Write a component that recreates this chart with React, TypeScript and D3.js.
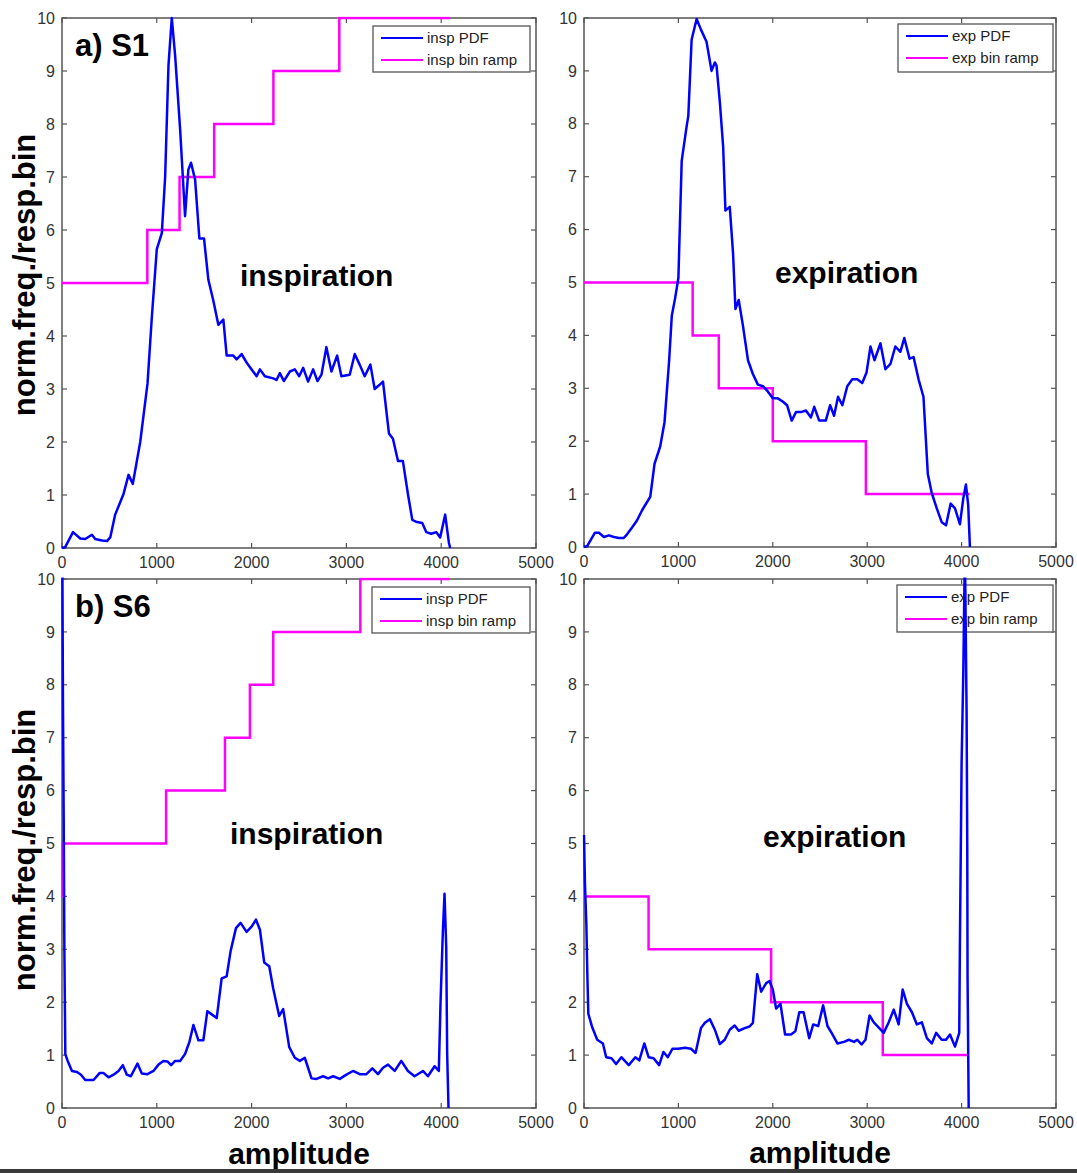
import React from 'react';
import * as d3 from 'd3';

const xTicks = [0, 1000, 2000, 3000, 4000, 5000];
const yTicks = [0, 1, 2, 3, 4, 5, 6, 7, 8, 9, 10];

// a) S1 inspiration PDF [amplitude, norm.freq]
const s1InspPdf: [number, number][] = [
  [0, 0], [35, 0.02], [116, 0.3], [193, 0.18], [245, 0.17], [316, 0.25], [350, 0.17], [421, 0.14], [474, 0.13],
  [509, 0.2], [561, 0.63], [649, 1.02], [702, 1.38], [747, 1.21], [825, 2.0], [902, 3.1], [947, 4.34],
  [1000, 5.64], [1053, 5.94], [1088, 7.0], [1123, 9.1], [1158, 10.0], [1193, 9.3], [1246, 7.9], [1298, 6.26],
  [1333, 7.14], [1361, 7.27], [1404, 6.95], [1449, 5.84], [1498, 5.84], [1544, 5.06], [1596, 4.67], [1649, 4.21],
  [1702, 4.31], [1737, 3.63], [1807, 3.63], [1842, 3.56], [1895, 3.66], [1947, 3.5], [2000, 3.37], [2053, 3.24],
  [2088, 3.37], [2140, 3.24], [2228, 3.2], [2263, 3.17], [2298, 3.3], [2340, 3.15], [2404, 3.33], [2456, 3.37],
  [2502, 3.24], [2544, 3.4], [2596, 3.14], [2649, 3.37], [2695, 3.15], [2737, 3.27], [2789, 3.79], [2842, 3.33],
  [2902, 3.63], [2947, 3.24], [3035, 3.27], [3088, 3.66], [3140, 3.46], [3193, 3.24], [3253, 3.46], [3298, 3.0],
  [3344, 3.07], [3386, 3.14], [3449, 2.16], [3491, 2.06], [3544, 1.64], [3596, 1.64], [3649, 1.02], [3695, 0.53],
  [3744, 0.49], [3800, 0.47], [3842, 0.3], [3895, 0.27], [3947, 0.3], [3989, 0.2], [4042, 0.63], [4081, 0.1],
  [4095, 0],
];
const s1InspRampEdges = [0, 900, 1240, 1605, 2230, 2925, 4095];
const s1InspRampLevels = [5, 6, 7, 8, 9, 10];

// a) S1 expiration PDF
const s1ExpPdf: [number, number][] = [
  [0, 0], [35, 0.02], [116, 0.27], [158, 0.27], [211, 0.19], [263, 0.22], [316, 0.19], [368, 0.17], [421, 0.17],
  [456, 0.24], [509, 0.37], [561, 0.5], [614, 0.69], [702, 0.95], [747, 1.57], [807, 1.9], [853, 2.36],
  [902, 3.53], [930, 4.37], [965, 4.7], [1000, 5.09], [1035, 7.3], [1088, 7.96], [1105, 8.15], [1140, 9.59],
  [1193, 9.98], [1239, 9.78], [1298, 9.55], [1351, 9.0], [1386, 9.16], [1404, 9.1], [1439, 8.41], [1474, 7.57],
  [1498, 6.36], [1544, 6.43], [1579, 5.55], [1604, 4.5], [1639, 4.67], [1684, 4.18], [1737, 3.53], [1789, 3.27],
  [1842, 3.07], [1895, 3.04], [1947, 2.94], [2000, 2.81], [2053, 2.81], [2105, 2.75], [2151, 2.68], [2200, 2.39],
  [2246, 2.55], [2298, 2.55], [2351, 2.58], [2404, 2.45], [2439, 2.65], [2491, 2.39], [2561, 2.39], [2607, 2.68],
  [2649, 2.48], [2691, 2.84], [2737, 2.68], [2789, 3.04], [2842, 3.17], [2895, 3.17], [2947, 3.1], [2993, 3.3],
  [3035, 3.79], [3077, 3.53], [3140, 3.85], [3193, 3.36], [3246, 3.46], [3298, 3.79], [3351, 3.69], [3393, 3.95],
  [3449, 3.56], [3491, 3.59], [3544, 3.17], [3596, 2.84], [3642, 1.38], [3684, 1.02], [3737, 0.73], [3789, 0.47],
  [3835, 0.41], [3884, 0.82], [3930, 0.73], [3982, 0.43], [4018, 0.92], [4046, 1.18], [4070, 0.79], [4088, 0],
];
const s1ExpRampEdges = [0, 1151, 1428, 2000, 2986, 4085];
const s1ExpRampLevels = [5, 4, 3, 2, 1];

// b) S6 inspiration PDF
const s6InspPdf: [number, number][] = [
  [0, 12], [10, 7.7], [18, 5.45], [25, 3.0], [35, 1.02], [60, 0.89], [105, 0.7], [158, 0.68], [200, 0.63],
  [245, 0.53], [333, 0.53], [396, 0.66], [439, 0.66], [491, 0.58], [544, 0.63], [596, 0.7], [642, 0.81],
  [684, 0.63], [726, 0.6], [796, 0.84], [842, 0.65], [902, 0.64], [965, 0.7], [1018, 0.82], [1070, 0.89],
  [1112, 0.88], [1151, 0.81], [1193, 0.89], [1246, 0.89], [1298, 1.02], [1344, 1.25], [1386, 1.57], [1439, 1.28],
  [1491, 1.28], [1533, 1.83], [1579, 1.77], [1632, 1.7], [1684, 2.45], [1737, 2.49], [1779, 2.97], [1835, 3.4],
  [1884, 3.5], [1947, 3.33], [2000, 3.43], [2046, 3.56], [2088, 3.37], [2133, 2.75], [2186, 2.68], [2228, 2.26],
  [2291, 1.74], [2333, 1.87], [2397, 1.15], [2456, 0.95], [2509, 0.89], [2561, 0.95], [2632, 0.56], [2684, 0.55],
  [2754, 0.6], [2807, 0.56], [2860, 0.6], [2930, 0.55], [3000, 0.63], [3070, 0.7], [3140, 0.64], [3211, 0.64],
  [3274, 0.75], [3333, 0.64], [3386, 0.76], [3439, 0.82], [3509, 0.7], [3579, 0.89], [3649, 0.7], [3719, 0.6],
  [3807, 0.7], [3860, 0.6], [3930, 0.79], [3975, 0.7], [3993, 2.0], [4018, 3.36], [4035, 4.05], [4053, 3.04],
  [4063, 1.02], [4077, 0],
];
const s6InspRampEdges = [0, 10, 1098, 1719, 1982, 2228, 3147, 4088];
const s6InspRampLevels = [4, 5, 6, 7, 8, 9, 10];

// b) S6 expiration PDF
const s6ExpPdf: [number, number][] = [
  [0, 5.16], [10, 4.25], [25, 3.47], [35, 2.56], [46, 1.78], [88, 1.52], [140, 1.29], [200, 1.22], [235, 0.96],
  [291, 0.94], [340, 0.83], [396, 0.96], [474, 0.81], [544, 0.96], [586, 0.9], [639, 1.22], [684, 0.96],
  [737, 0.94], [796, 0.81], [842, 1.06], [888, 0.96], [937, 1.12], [1000, 1.12], [1070, 1.14], [1133, 1.12],
  [1182, 1.04], [1239, 1.51], [1281, 1.61], [1333, 1.68], [1386, 1.48], [1439, 1.21], [1491, 1.29], [1544, 1.48],
  [1596, 1.56], [1639, 1.46], [1702, 1.51], [1754, 1.54], [1789, 1.61], [1835, 2.53], [1877, 2.2], [1930, 2.36],
  [1965, 2.4], [2000, 2.24], [2035, 1.88], [2081, 1.97], [2130, 1.39], [2193, 1.39], [2239, 1.45], [2281, 1.81],
  [2326, 1.81], [2386, 1.32], [2428, 1.58], [2481, 1.55], [2533, 1.94], [2579, 1.55], [2632, 1.39], [2684, 1.22],
  [2754, 1.25], [2807, 1.29], [2860, 1.25], [2895, 1.29], [2940, 1.2], [2982, 1.29], [3025, 1.75], [3070, 1.62],
  [3123, 1.52], [3175, 1.42], [3228, 1.62], [3281, 1.86], [3333, 1.58], [3376, 2.24], [3421, 1.97], [3474, 1.81],
  [3526, 1.58], [3579, 1.62], [3632, 1.32], [3684, 1.22], [3730, 1.42], [3789, 1.29], [3835, 1.29], [3877, 1.39],
  [3930, 1.16], [3975, 1.42], [3982, 3.08], [4000, 6.53], [4018, 8.23], [4035, 10.6], [4053, 7.45], [4060, 4.97],
  [4063, 2.5], [4075, 0],
];
const s6ExpRampEdges = [0, 684, 1982, 3165, 4068];
const s6ExpRampLevels = [4, 3, 2, 1];

const legendInsp = ['insp PDF', 'insp bin ramp'];
const legendExp = ['exp PDF', 'exp bin ramp'];

const FONT = 'Arial, "Liberation Sans", Helvetica, sans-serif';
const AXIS_COLOR = '#555';
const BLUE = '#0000ff';
const MAGENTA = '#ff00ff';

type PanelProps = {
  id: string;
  left: number; right: number; top: number; bottom: number;
  pdf: [number, number][];
  edges: number[]; levels: number[];
  legend: string[];
  legendBox: { x: number; y: number; w: number; h: number };
  note: string; noteX: number; noteY: number;
  label?: string;
};

function Panel(p: PanelProps) {
  const xs = d3.scaleLinear().domain([0, 5000]).range([p.left, p.right]);
  const ys = d3.scaleLinear().domain([0, 10]).range([p.bottom, p.top]);
  const line = d3.line<[number, number]>().x(d => xs(d[0])).y(d => ys(d[1]));
  const rampPts: [number, number][] = p.levels.map((l, i) => [p.edges[i], l] as [number, number]);
  rampPts.push([p.edges[p.edges.length - 1], p.levels[p.levels.length - 1]]);
  const ramp = d3.line<[number, number]>().x(d => xs(d[0])).y(d => ys(d[1])).curve(d3.curveStepAfter);
  const tl = 5;
  const lb = p.legendBox;
  return (
    <g>
      <defs>
        <clipPath id={p.id}>
          <rect x={p.left - 1.5} y={p.top - 1.5} width={p.right - p.left + 1.5} height={p.bottom - p.top + 3} />
        </clipPath>
      </defs>
      <rect x={p.left} y={p.top} width={p.right - p.left} height={p.bottom - p.top} fill="white" stroke={AXIS_COLOR} strokeWidth={1.5} />
      {xTicks.map(t => (
        <g key={'x' + t}>
          <line x1={xs(t)} x2={xs(t)} y1={p.bottom} y2={p.bottom - tl} stroke={AXIS_COLOR} strokeWidth={1.2} />
          <line x1={xs(t)} x2={xs(t)} y1={p.top} y2={p.top + tl} stroke={AXIS_COLOR} strokeWidth={1.2} />
          <text x={xs(t)} y={p.bottom + 20} textAnchor="middle" fontSize={16} fill="#333" fontFamily={FONT}>{t}</text>
        </g>
      ))}
      {yTicks.map(t => (
        <g key={'y' + t}>
          <line x1={p.left} x2={p.left + tl} y1={ys(t)} y2={ys(t)} stroke={AXIS_COLOR} strokeWidth={1.2} />
          <line x1={p.right} x2={p.right - tl} y1={ys(t)} y2={ys(t)} stroke={AXIS_COLOR} strokeWidth={1.2} />
          <text x={p.left - 7} y={ys(t)} dy="0.35em" textAnchor="end" fontSize={16} fill="#333" fontFamily={FONT}>{t}</text>
        </g>
      ))}
      <rect x={lb.x} y={lb.y} width={lb.w} height={lb.h} fill="white" stroke={AXIS_COLOR} strokeWidth={1.3} />
      <line x1={lb.x + 8} x2={lb.x + 50} y1={lb.y + 12} y2={lb.y + 12} stroke={BLUE} strokeWidth={2} />
      <line x1={lb.x + 8} x2={lb.x + 50} y1={lb.y + 34} y2={lb.y + 34} stroke={MAGENTA} strokeWidth={2} />
      <text x={lb.x + 54} y={lb.y + 17} fontSize={15} fill="#222" fontFamily={FONT}>{p.legend[0]}</text>
      <text x={lb.x + 54} y={lb.y + 39} fontSize={15} fill="#222" fontFamily={FONT}>{p.legend[1]}</text>
      <g clipPath={`url(#${p.id})`}>
        <path d={ramp(rampPts) || ''} fill="none" stroke={MAGENTA} strokeWidth={2.5} />
        <path d={line(p.pdf) || ''} fill="none" stroke={BLUE} strokeWidth={2.5} strokeLinejoin="round" />
      </g>
      <text x={xs(p.noteX)} y={ys(p.noteY)} fontSize={30} fontWeight="bold" fill="#000" fontFamily={FONT}>{p.note}</text>
      {p.label && (
        <text x={p.left + 13} y={p.top + 38} fontSize={31} fontWeight="bold" fill="#000" fontFamily={FONT}>{p.label}</text>
      )}
    </g>
  );
}

export default function App() {
  const W = 1077, H = 1173;
  return (
    <div style={{ position: 'absolute', left: 0, top: 0 }}>
      <svg width={W} height={H} viewBox={`0 0 ${W} ${H}`} style={{ display: 'block', background: 'white' }}>
        <rect x={0} y={0} width={W} height={H} fill="white" />
        <Panel id="c1" left={62} right={536} top={18} bottom={548} pdf={s1InspPdf}
          edges={s1InspRampEdges} levels={s1InspRampLevels} legend={legendInsp}
          legendBox={{ x: 373, y: 26, w: 157, h: 46 }} note="inspiration" noteX={1878} noteY={4.95} label="a) S1" />
        <Panel id="c2" left={584} right={1056} top={18} bottom={547} pdf={s1ExpPdf}
          edges={s1ExpRampEdges} levels={s1ExpRampLevels} legend={legendExp}
          legendBox={{ x: 898, y: 24, w: 155, h: 48 }} note="expiration" noteX={2023} noteY={5.0} />
        <Panel id="c3" left={62} right={536} top={579} bottom={1108} pdf={s6InspPdf}
          edges={s6InspRampEdges} levels={s6InspRampLevels} legend={legendInsp}
          legendBox={{ x: 372, y: 587, w: 158, h: 46 }} note="inspiration" noteX={1772} noteY={5.0} label="b) S6" />
        <Panel id="c4" left={584} right={1056} top={579} bottom={1108} pdf={s6ExpPdf}
          edges={s6ExpRampEdges} levels={s6ExpRampLevels} legend={legendExp}
          legendBox={{ x: 897, y: 585, w: 156, h: 47 }} note="expiration" noteX={1896} noteY={4.94} />
        <text transform="translate(35,275) rotate(-90)" textAnchor="middle" fontSize={31} fontWeight="bold" fill="#000" fontFamily={FONT}>norm.freq./resp.bin</text>
        <text transform="translate(35,850) rotate(-90)" textAnchor="middle" fontSize={31} fontWeight="bold" fill="#000" fontFamily={FONT}>norm.freq./resp.bin</text>
        <text x={299} y={1164} textAnchor="middle" fontSize={30} fontWeight="bold" fill="#000" fontFamily={FONT}>amplitude</text>
        <text x={820} y={1163} textAnchor="middle" fontSize={30} fontWeight="bold" fill="#000" fontFamily={FONT}>amplitude</text>
        <rect x={0} y={1169} width={W} height={4} fill="#3a3a3a" />
      </svg>
    </div>
  );
}
